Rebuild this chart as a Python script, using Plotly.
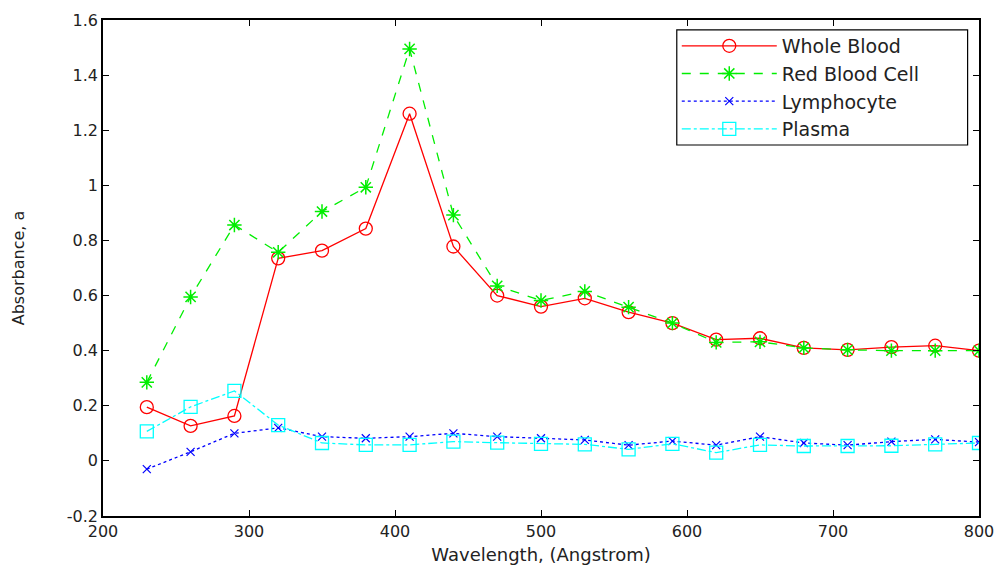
import plotly.graph_objects as go

wavelength = [230, 260, 290, 320, 350, 380, 410, 440, 470, 500, 530, 560, 590, 620, 650, 680, 710, 740, 770, 800]
whole_blood = [0.195, 0.127, 0.163, 0.735, 0.763, 0.843, 1.26, 0.778, 0.60, 0.56, 0.59, 0.54, 0.50, 0.44, 0.445, 0.41, 0.403, 0.413, 0.418, 0.40]
red_blood_cell = [0.285, 0.595, 0.856, 0.757, 0.905, 0.993, 1.495, 0.892, 0.635, 0.582, 0.615, 0.558, 0.50, 0.43, 0.432, 0.41, 0.403, 0.40, 0.40, 0.40]
lymphocyte = [-0.03, 0.033, 0.10, 0.12, 0.088, 0.082, 0.088, 0.10, 0.088, 0.082, 0.076, 0.057, 0.072, 0.057, 0.088, 0.065, 0.057, 0.07, 0.078, 0.068]
plasma = [0.107, 0.196, 0.254, 0.13, 0.065, 0.058, 0.058, 0.07, 0.066, 0.062, 0.06, 0.042, 0.062, 0.03, 0.058, 0.054, 0.054, 0.055, 0.06, 0.065]

x_ticks = [200, 300, 400, 500, 600, 700, 800]
y_ticks = [-0.2, 0, 0.2, 0.4, 0.6, 0.8, 1, 1.2, 1.4, 1.6]
y_tick_text = ["-0.2", "0", "0.2", "0.4", "0.6", "0.8", "1", "1.2", "1.4", "1.6"]

FONT = "DejaVu Sans, Liberation Sans, Arial, sans-serif"

fig = go.Figure()
fig.add_trace(go.Scatter(x=wavelength, y=whole_blood, name="Whole Blood", mode="lines+markers",
                         line=dict(color="#ff0000", width=1.3, dash="solid"),
                         marker=dict(symbol="circle-open", size=13, color="#ff0000", line=dict(width=1.3))))
fig.add_trace(go.Scatter(x=wavelength, y=red_blood_cell, name="Red Blood Cell", mode="lines+markers",
                         line=dict(color="#00ee00", width=1.3, dash="dash"),
                         marker=dict(symbol="asterisk-open", size=12, color="#00ee00", line=dict(width=1.5))))
fig.add_trace(go.Scatter(x=wavelength, y=lymphocyte, name="Lymphocyte", mode="lines+markers",
                         line=dict(color="#0000ff", width=1.3, dash="dot"),
                         marker=dict(symbol="x-thin-open", size=8, color="#0000ff", line=dict(width=1.2))))
fig.add_trace(go.Scatter(x=wavelength, y=plasma, name="Plasma", mode="lines+markers",
                         line=dict(color="#00ffff", width=1.3, dash="dashdot"),
                         marker=dict(symbol="square-open", size=13, color="#00ffff", line=dict(width=1.3))))

axis_common = dict(showline=True, linecolor="black", linewidth=1.5, mirror="ticks",
                   ticks="inside", ticklen=6, tickcolor="black", showgrid=False, zeroline=False,
                   automargin=False,
                   tickfont=dict(family=FONT, size=16, color="#222"))

fig.update_xaxes(range=[200, 800], tickvals=x_ticks,
                 title=dict(text="Wavelength, (Angstrom)", font=dict(family=FONT, size=18, color="#222"), standoff=8),
                 **axis_common)
fig.update_yaxes(range=[-0.2, 1.6], tickvals=y_ticks, ticktext=y_tick_text,
                 title=dict(text="Absorbance, a", font=dict(family=FONT, size=16, color="#222"), standoff=38),
                 **axis_common)

# legend frame (drawn as a paper-referenced rectangle to match the wide original box)
fig.add_shape(type="rect", xref="paper", yref="paper", x0=0.655, x1=0.987, y0=0.748, y1=0.98,
              line=dict(color="black", width=1.2), fillcolor="white", layer="above")

fig.update_layout(
    width=1000, height=566,
    margin=dict(l=103, r=21, t=20, b=50),
    paper_bgcolor="white", plot_bgcolor="white",
    showlegend=True,
    legend=dict(x=0.655, y=0.986, xanchor="left", yanchor="top",
                borderwidth=0, bgcolor="rgba(0,0,0,0)",
                font=dict(family=FONT, size=19, color="#222"),
                itemwidth=95, tracegroupgap=0),
)

fig.write_html("out.html")
